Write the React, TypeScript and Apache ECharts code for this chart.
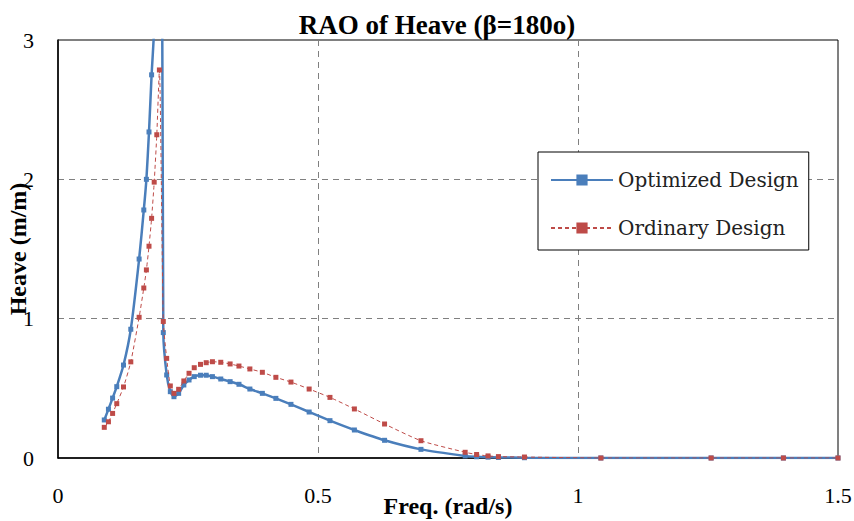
import React, { useEffect, useRef } from "react";
import * as echarts from "echarts";

const freq = [0.089, 0.097, 0.105, 0.113, 0.126, 0.14, 0.156, 0.165, 0.17, 0.175, 0.18, 0.185, 0.19, 0.195, 0.2025, 0.209, 0.216, 0.223, 0.232, 0.242, 0.252, 0.262, 0.274, 0.285, 0.297, 0.313, 0.331, 0.348, 0.369, 0.393, 0.419, 0.448, 0.483, 0.523, 0.57, 0.628, 0.698, 0.783, 0.805, 0.827, 0.847, 0.897, 1.044, 1.256, 1.395, 1.5];

const optimized = [0.273, 0.35, 0.43, 0.512, 0.667, 0.924, 1.428, 1.78, 2.0, 2.34, 2.75, 3.1, 5.0, 9.0, 0.9, 0.596, 0.476, 0.44, 0.464, 0.524, 0.56, 0.584, 0.594, 0.594, 0.584, 0.567, 0.548, 0.529, 0.495, 0.464, 0.428, 0.385, 0.33, 0.268, 0.201, 0.127, 0.062, 0.015, 0.009, 0.006, 0.004, 0.002, 0, 0, 0, 0];

const ordinary = [0.22, 0.26, 0.32, 0.39, 0.51, 0.69, 1.01, 1.22, 1.35, 1.52, 1.72, 1.98, 2.32, 2.785, 0.98, 0.715, 0.517, 0.464, 0.493, 0.553, 0.608, 0.648, 0.672, 0.684, 0.691, 0.687, 0.675, 0.66, 0.639, 0.615, 0.579, 0.545, 0.495, 0.435, 0.352, 0.244, 0.124, 0.041, 0.025, 0.015, 0.01, 0.007, 0, 0, 0, 0];

const seriesNames = ["Optimized Design", "Ordinary Design"];
const titleText = "RAO of Heave (\u03b2=180o)";
const xName = "Freq. (rad/s)";
const yName = "Heave (m/m)";

const FONT = "'Liberation Serif', 'Times New Roman', serif";
const LEGEND_FONT = "'DejaVu Serif', serif";

export default function App() {
  const ref = useRef<HTMLDivElement>(null);
  useEffect(() => {
    if (!ref.current) return;
    const chart = echarts.init(ref.current, undefined, { renderer: "svg" });
    const pair = (ys: number[]) => freq.map((x, i) => [x, ys[i]]);
    chart.setOption({
      animation: false,
      backgroundColor: "#fff",
      textStyle: { fontFamily: FONT },
      title: {
        text: titleText,
        left: 432,
        textAlign: "center",
        top: 6,
        textStyle: { fontFamily: FONT, fontWeight: "bold", fontSize: 27, color: "#000" },
      },
      grid: {
        left: 58,
        right: 16,
        top: 40,
        bottom: 63,
        outerBoundsMode: "none",
        containLabel: false,
        show: true,
        borderColor: "#000",
        borderWidth: 1,
      },
      legend: {
        orient: "vertical",
        left: 538,
        top: 152,
        padding: [18, 10, 12, 12],
        itemGap: 28,
        itemWidth: 62,
        itemHeight: 14,
        borderColor: "#000",
        borderWidth: 1,
        backgroundColor: "#fff",
        textStyle: { fontFamily: LEGEND_FONT, fontSize: 20, color: "#222" },
        data: seriesNames,
      },
      xAxis: {
        type: "value",
        min: 0,
        max: 1.5,
        interval: 0.5,
        name: xName,
        nameLocation: "middle",
        nameGap: 36,
        nameMoveOverlap: false,
        nameTextStyle: { fontFamily: FONT, fontWeight: "bold", fontSize: 24, color: "#000" },
        axisLine: { show: true, lineStyle: { color: "#000", width: 1.5 } },
        axisTick: { show: false },
        axisLabel: { margin: 26, fontFamily: FONT, fontSize: 22, color: "#000" },
        splitLine: { show: true, lineStyle: { color: "#808080", type: [6, 5], width: 1 } },
      },
      yAxis: {
        type: "value",
        min: 0,
        max: 3,
        interval: 1,
        name: yName,
        nameLocation: "middle",
        nameGap: 28,
        nameMoveOverlap: false,
        nameTextStyle: { fontFamily: FONT, fontWeight: "bold", fontSize: 24, color: "#000" },
        axisLine: { show: true, lineStyle: { color: "#000", width: 1.5 } },
        axisTick: { show: false },
        axisLabel: { margin: 24, fontFamily: FONT, fontSize: 22, color: "#000" },
        splitLine: { show: true, lineStyle: { color: "#808080", type: [6, 5], width: 1 } },
      },
      series: [
        {
          name: seriesNames[0],
          type: "line",
          data: pair(optimized),
          smooth: 0.2,
          clip: true,
          symbol: "rect",
          symbolSize: 5,
          showSymbol: true,
          color: "#4A7EBB",
          lineStyle: { color: "#4A7EBB", width: 2.5 },
          itemStyle: { color: "#4A7EBB" },
          z: 2,
        },
        {
          name: seriesNames[1],
          type: "line",
          data: pair(ordinary),
          smooth: 0.2,
          clip: true,
          symbol: "rect",
          symbolSize: 5,
          showSymbol: true,
          color: "#BE4B48",
          lineStyle: { color: "#BE4B48", width: 1, type: [4, 3] },
          itemStyle: { color: "#BE4B48" },
          z: 3,
        },
      ],
    });
    return () => chart.dispose();
  }, []);
  return (
    <div
      ref={ref}
      style={{ position: "fixed", left: 0, top: 0, width: 854, height: 521, background: "#fff" }}
    />
  );
}
